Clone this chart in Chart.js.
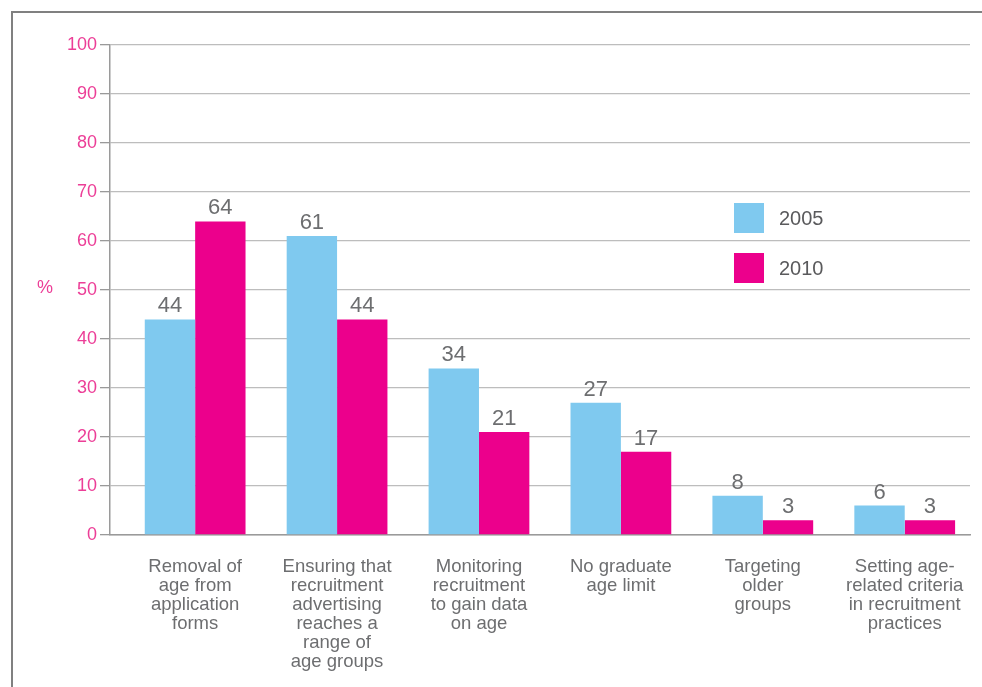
<!DOCTYPE html>
<html>
<head>
<meta charset="utf-8">
<script src="https://cdn.jsdelivr.net/npm/chart.js@4/dist/chart.umd.min.js"></script>
<style>
  html, body { margin: 0; padding: 0; background: #fff; }
  #frame { position: absolute; left: 11px; top: 11px; width: 971px; height: 676px;
           border-left: 2px solid #808080; border-top: 2px solid #808080; box-sizing: border-box; }
  #wrap { position: absolute; left: 0; top: 0; width: 982px; height: 687px; }
</style>
</head>
<body>
<div id="frame"></div>
<div id="wrap"><canvas id="c" width="982" height="687"></canvas></div>
<script>
const categories = [
  ["Removal of", "age from", "application", "forms"],
  ["Ensuring that", "recruitment", "advertising", "reaches a", "range of", "age groups"],
  ["Monitoring", "recruitment", "to gain data", "on age"],
  ["No graduate", "age limit"],
  ["Targeting", "older", "groups"],
  ["Setting age-", "related criteria", "in recruitment", "practices"]
];
const seriesNames = ["2005", "2010"];
const values2005 = [44, 61, 34, 27, 8, 6];
const values2010 = [64, 44, 21, 17, 3, 3];
const yTicks = [0, 10, 20, 30, 40, 50, 60, 70, 80, 90, 100];
const yTitle = "%";

const BLUE = "#7fc9ef";
const PINK = "#ec008c";
const PINK_TEXT = "#ec3e97";
const GREY_TEXT = "#6d6e70";
const FONT = "'Liberation Sans', Arial, Helvetica, sans-serif";

const toPoints = arr => arr.map((v, i) => ({ x: i, y: v }));

const valueLabels = {
  id: 'valueLabels',
  afterDatasetsDraw(chart) {
    const ctx = chart.ctx;
    ctx.save();
    ctx.font = "22px " + FONT;
    ctx.fillStyle = GREY_TEXT;
    ctx.textAlign = "center";
    ctx.textBaseline = "alphabetic";
    chart.data.datasets.forEach((ds, di) => {
      const meta = chart.getDatasetMeta(di);
      meta.data.forEach((el, i) => {
        ctx.fillText(String(ds.data[i].y), el.x, el.y - 7);
      });
    });
    ctx.restore();
  }
};

const extras = {
  id: 'extras',
  afterDraw(chart) {
    const ctx = chart.ctx;
    ctx.save();
    ctx.font = "18px " + FONT;
    ctx.fillStyle = PINK_TEXT;
    ctx.textAlign = "center";
    ctx.textBaseline = "middle";
    ctx.fillText(yTitle, 45, 288);
    const colors = [BLUE, PINK];
    seriesNames.forEach((name, i) => {
      const y = 203 + i * 50;
      ctx.fillStyle = colors[i];
      ctx.fillRect(734, y, 30, 30);
      ctx.fillStyle = "#5a5a5c";
      ctx.font = "20px " + FONT;
      ctx.textAlign = "left";
      ctx.textBaseline = "middle";
      ctx.fillText(name, 779, y + 16);
    });
    ctx.restore();
  }
};

new Chart(document.getElementById('c'), {
  type: 'bar',
  data: {
    datasets: [
      { label: seriesNames[0], data: toPoints(values2005), backgroundColor: BLUE, borderWidth: 0 },
      { label: seriesNames[1], data: toPoints(values2010), backgroundColor: PINK, borderWidth: 0 }
    ]
  },
  options: {
    responsive: false,
    animation: false,
    events: [],
    categoryPercentage: 0.71,
    barPercentage: 1.0,
    layout: { padding: { left: 0, right: 12, top: 45, bottom: 0 } },
    plugins: { legend: { display: false }, tooltip: { enabled: false } },
    scales: {
      x: {
        type: 'linear',
        offset: false,
        min: -0.6,
        max: 5.46,
        afterBuildTicks: s => { s.ticks = categories.map((c, i) => ({ value: i })); },
        afterFit: s => { s.height = 152; s.paddingLeft = 0; s.paddingRight = 0; },
        grid: { display: false, drawTicks: false, offset: false },
        border: { display: true, color: "#9a9a9a", width: 1.5 },
        ticks: {
          autoSkip: false,
          maxRotation: 0,
          minRotation: 0,
          padding: 22,
          color: GREY_TEXT,
          font: { family: FONT, size: 18.5, lineHeight: "19px" },
          callback: (v) => categories[v] || ""
        }
      },
      y: {
        min: 0,
        max: 100,
        afterBuildTicks: s => { s.ticks = yTicks.map(v => ({ value: v })); },
        afterFit: s => { s.width = 110; },
        grid: { color: "#bdbdbd", lineWidth: 1.3, drawTicks: true, tickLength: 10, tickColor: "#9a9a9a" },
        border: { display: true, color: "#9a9a9a", width: 1.5 },
        ticks: {
          padding: 3,
          color: PINK_TEXT,
          font: { family: FONT, size: 18 }
        }
      }
    }
  },
  plugins: [valueLabels, extras]
});
</script>
</body>
</html>
